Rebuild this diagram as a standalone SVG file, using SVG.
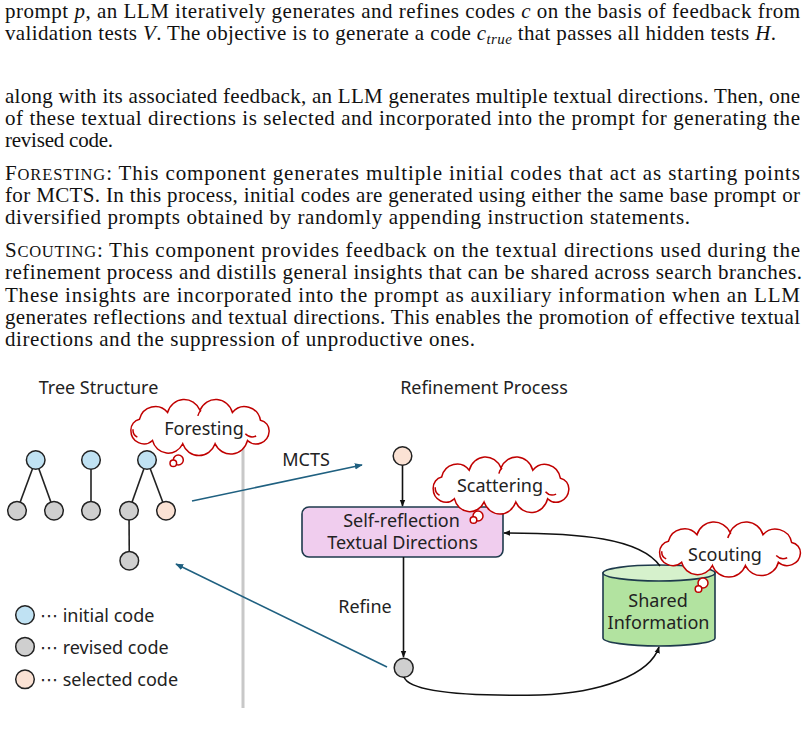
<svg xmlns="http://www.w3.org/2000/svg" xmlns:xlink="http://www.w3.org/1999/xlink" width="808" height="731" viewBox="0 0 808 731">
<style>
.p{font-family:"Liberation Serif","Times New Roman",serif;font-size:21px;fill:#111}
.i{font-style:italic}
.sc{font-size:16.5px}
.s{font-family:"Noto Sans","Open Sans","DejaVu Sans",sans-serif;font-size:18px;fill:#222;text-anchor:middle}
.sl{font-family:"Noto Sans","Open Sans","DejaVu Sans",sans-serif;font-size:18px;fill:#222}
.node{stroke:#222;stroke-width:1.5}
.blue{fill:#c0e2f3}
.gray{fill:#cfcfcf}
.peach{fill:#fbe2d4}
.edge{stroke:#222;stroke-width:1.6;fill:none}
.cloud{fill:#fff;stroke:#c00000;stroke-width:1.5}
.curl{fill:none;stroke:#c00000;stroke-width:1.5}
.conn{stroke:#111;stroke-width:1.6;fill:none}
.teal{stroke:#1f6080;stroke-width:1.6;fill:none}
</style>
<defs>
<marker id="ab" viewBox="0 0 10 10" refX="9" refY="5" markerWidth="7" markerHeight="7" orient="auto" markerUnits="userSpaceOnUse"><path d="M0,1 L10,5 L0,9 z" fill="#111"/></marker>
<marker id="at" viewBox="0 0 10 10" refX="9" refY="5" markerWidth="8" markerHeight="8" orient="auto" markerUnits="userSpaceOnUse"><path d="M0,1 L10,5 L0,9 z" fill="#1f6080"/></marker>
<path id="cloud" vector-effect="non-scaling-stroke" d="M-64,3 A10,10 0 0 1 -56,-7 A15,15 0 0 1 -30,-13 A16,16 0 0 1 0,-15 A16,16 0 0 1 30,-13 A15,15 0 0 1 56,-6 A9.5,9.5 0 0 1 64,4 A12,12 0 0 1 44,12 A16,16 0 0 1 14,15 A16,16 0 0 1 -16,15 A15,15 0 0 1 -44,12 A12,12 0 0 1 -64,3 Z"/>
<path id="curls" vector-effect="non-scaling-stroke" d="M42,6 A9,9 0 0 0 52,8 M-62,2 A7,7 0 0 0 -58,9 M-2,-10 A9,9 0 0 1 1,-15"/>
</defs>

<!-- page text -->
<g id="text-top">
<text class="p" x="5" y="18" textLength="795" lengthAdjust="spacing">prompt <tspan class="i">p</tspan>, an LLM iteratively generates and refines codes <tspan class="i">c</tspan> on the basis of feedback from</text>
<text class="p" x="5" y="40" textLength="771" lengthAdjust="spacing">validation tests <tspan class="i">V</tspan>. The objective is to generate a code <tspan class="i">c</tspan><tspan class="i" font-size="15" dy="4">true</tspan><tspan dy="-4"> that passes all hidden tests </tspan><tspan class="i">H</tspan>.</text>
<text class="p" x="5" y="103" textLength="795" lengthAdjust="spacing">along with its associated feedback, an LLM generates multiple textual directions. Then, one</text>
<text class="p" x="5" y="125" textLength="795" lengthAdjust="spacing">of these textual directions is selected and incorporated into the prompt for generating the</text>
<text class="p" x="5" y="147" textLength="108" lengthAdjust="spacing">revised code.</text>
<text class="p" x="5" y="180" textLength="795" lengthAdjust="spacing">F<tspan class="sc">ORESTING</tspan>: This component generates multiple initial codes that act as starting points</text>
<text class="p" x="5" y="202" textLength="795" lengthAdjust="spacing">for MCTS. In this process, initial codes are generated using either the same base prompt or</text>
<text class="p" x="5" y="224" textLength="685" lengthAdjust="spacing">diversified prompts obtained by randomly appending instruction statements.</text>
<text class="p" x="5" y="257" textLength="795" lengthAdjust="spacing">S<tspan class="sc">COUTING</tspan>: This component provides feedback on the textual directions used during the</text>
<text class="p" x="5" y="279" textLength="797" lengthAdjust="spacing">refinement process and distills general insights that can be shared across search branches.</text>
<text class="p" x="5" y="302" textLength="795" lengthAdjust="spacing">These insights are incorporated into the prompt as auxiliary information when an LLM</text>
<text class="p" x="5" y="324" textLength="795" lengthAdjust="spacing">generates reflections and textual directions. This enables the promotion of effective textual</text>
<text class="p" x="5" y="346" textLength="470" lengthAdjust="spacing">directions and the suppression of unproductive ones.</text>
</g>

<!-- diagram titles -->
<text class="s" x="98.5" y="394">Tree Structure</text>
<text class="s" x="484" y="394">Refinement Process</text>

<!-- divider -->
<line x1="243" y1="440" x2="243" y2="708" stroke="#c8c8c8" stroke-width="3"/>

<!-- tree structure -->
<g id="tree-edges">
<line class="edge" x1="35.7" y1="460" x2="17" y2="510.7"/>
<line class="edge" x1="35.7" y1="460" x2="54" y2="510.7"/>
<line class="edge" x1="91" y1="460" x2="91" y2="510.7"/>
<line class="edge" x1="147" y1="460" x2="129" y2="510.7"/>
<line class="edge" x1="147" y1="460" x2="166" y2="510.7"/>
<line class="edge" x1="129" y1="510.7" x2="129.3" y2="560.7"/>
</g>
<g id="t1-root"><circle class="node blue" cx="35.7" cy="460" r="9.3"/></g>
<g id="t1-c1"><circle class="node gray" cx="17" cy="510.7" r="9.3"/></g>
<g id="t1-c2"><circle class="node gray" cx="54" cy="510.7" r="9.3"/></g>
<g id="t2-root"><circle class="node blue" cx="91" cy="460" r="9.3"/></g>
<g id="t2-c1"><circle class="node gray" cx="91" cy="510.7" r="9.3"/></g>
<g id="t3-root"><circle class="node blue" cx="147" cy="460" r="9.3"/></g>
<g id="t3-c1"><circle class="node gray" cx="129" cy="510.7" r="9.3"/></g>
<g id="t3-c2"><circle class="node peach" cx="166" cy="510.7" r="9.3"/></g>
<g id="t3-c1-c1"><circle class="node gray" cx="129.3" cy="560.7" r="9.3"/></g>

<!-- legend -->
<g id="legend">
<circle class="node blue" cx="25" cy="615" r="9.3"/>
<text class="sl" x="40" y="621.5">⋯ initial code</text>
<circle class="node gray" cx="25" cy="646.7" r="9.3"/>
<text class="sl" x="40" y="653.5">⋯ revised code</text>
<circle class="node peach" cx="25" cy="679.3" r="9.3"/>
<text class="sl" x="40" y="686">⋯ selected code</text>
</g>

<!-- Foresting cloud -->
<g id="foresting">
<use xlink:href="#cloud" class="cloud" transform="translate(200,427) scale(1.08,1.12)"/>
<use xlink:href="#curls" class="curl" transform="translate(200,427) scale(1.08,1.12)"/>
<circle class="cloud" cx="178.3" cy="460" r="5"/>
<circle class="cloud" cx="173.3" cy="463.3" r="3.3"/>
<text class="s" x="204" y="434.5">Foresting</text>
</g>

<!-- refinement nodes -->
<g id="r-top"><circle class="node peach" cx="402.5" cy="456" r="9.3"/></g>
<g id="box">
<rect x="302" y="507" width="201" height="50" rx="7" fill="#f0cdee" stroke="#1e3a4c" stroke-width="1.6"/>
<text class="s" x="401.5" y="527">Self-reflection</text>
<text class="s" x="402.5" y="549">Textual Directions</text>
</g>
<g id="r-bottom"><circle class="node gray" cx="403.7" cy="667.7" r="9.5"/></g>

<g id="shared">
<path d="M603,573 L603,638 A56,8 0 0 0 715,638 L715,573 Z" fill="#b2e3a0" stroke="#1e3a4c" stroke-width="1.6"/>
<ellipse cx="659" cy="573" rx="56" ry="8" fill="#d6f1cc" stroke="#1e3a4c" stroke-width="1.6"/>
<text class="s" x="658" y="607">Shared</text>
<text class="s" x="658.5" y="629">Information</text>
</g>

<!-- connectors -->
<g id="connectors">
<line class="teal" x1="192" y1="501" x2="362" y2="465" marker-end="url(#at)"/>
<line class="teal" x1="387" y1="667" x2="176" y2="564" marker-end="url(#at)"/>
<line class="conn" x1="402.5" y1="465.5" x2="402.5" y2="506" marker-end="url(#ab)"/>
<line class="conn" x1="403.5" y1="557" x2="403.5" y2="657" marker-end="url(#ab)"/>
<path class="conn" d="M404,677 C410,694 480,696 540,695 C600,693 650,675 659,647" marker-end="url(#ab)"/>
<path class="conn" d="M660,566 C640,538 580,533 504,533" marker-end="url(#ab)"/>
</g>
<text class="s" x="306" y="466">MCTS</text>
<text class="s" x="365" y="613">Refine</text>

<!-- Scattering cloud -->
<g id="scattering">
<use xlink:href="#cloud" class="cloud" transform="translate(501,485) scale(1.06,1.14)"/>
<use xlink:href="#curls" class="curl" transform="translate(501,485) scale(1.06,1.14)"/>
<circle class="cloud" cx="478" cy="516" r="5"/>
<circle class="cloud" cx="473.5" cy="520" r="3.3"/>
<text class="s" x="500" y="491.5">Scattering</text>
</g>

<!-- Scouting cloud -->
<g id="scouting">
<use xlink:href="#cloud" class="cloud" transform="translate(730,549) scale(1.1,1.1)"/>
<use xlink:href="#curls" class="curl" transform="translate(730,549) scale(1.1,1.1)"/>
<circle class="cloud" cx="703" cy="583" r="5"/>
<circle class="cloud" cx="698.5" cy="589" r="3.3"/>
<text class="s" x="725" y="560.5">Scouting</text>
</g>
</svg>
